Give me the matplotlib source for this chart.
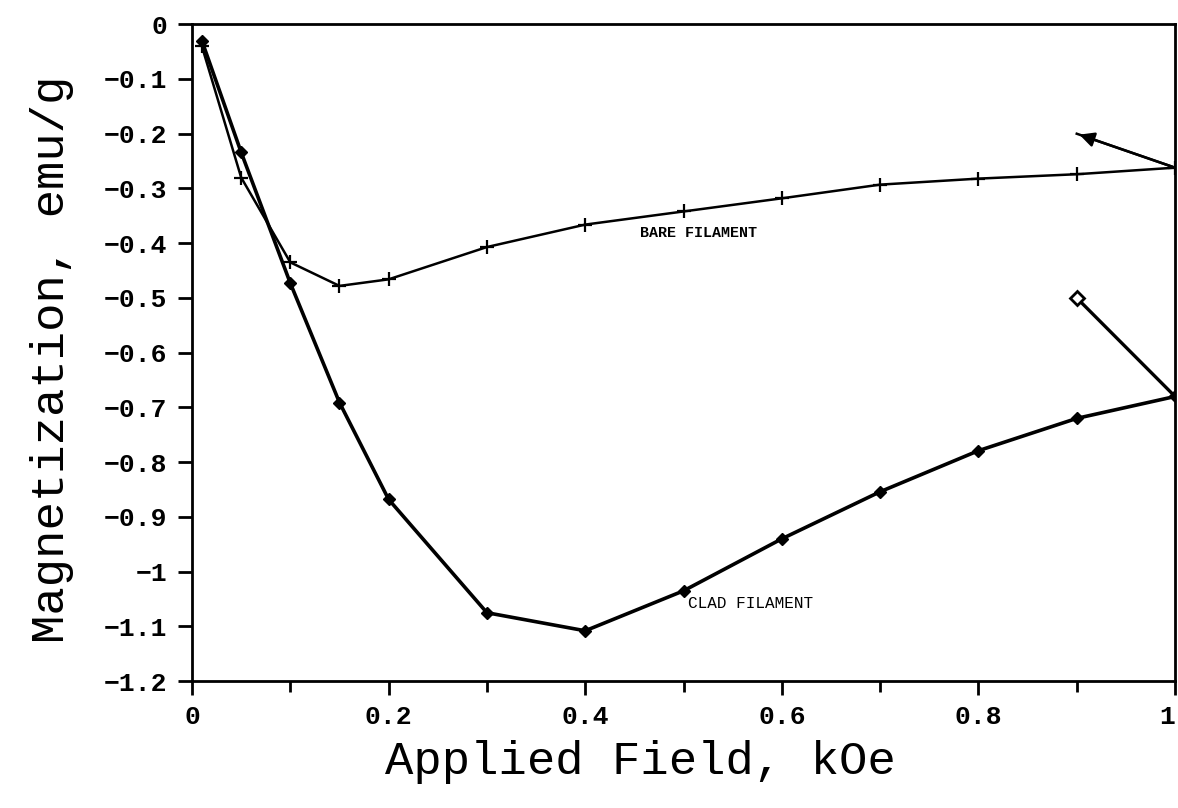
import matplotlib.pyplot as plt
import numpy as np

# bare filament (+ markers), last point is the return branch
bare_x = [0.01, 0.05, 0.1, 0.15, 0.2, 0.3, 0.4, 0.5, 0.6, 0.7, 0.8, 0.9, 1.0, 0.9]
bare_y = [-0.04, -0.28, -0.435, -0.478, -0.466, -0.407, -0.366, -0.342, -0.318,
          -0.293, -0.282, -0.274, -0.262, -0.2]

# clad filament (diamond markers), last point is the return branch
clad_x = [0.01, 0.05, 0.1, 0.15, 0.2, 0.3, 0.4, 0.5, 0.6, 0.7, 0.8, 0.9, 1.0, 0.9]
clad_y = [-0.03, -0.234, -0.473, -0.691, -0.868, -1.075, -1.108, -1.035, -0.94,
          -0.854, -0.779, -0.72, -0.68, -0.5]

x_major = [0, 0.2, 0.4, 0.6, 0.8, 1]
x_labels = ['0', '0.2', '0.4', '0.6', '0.8', '1']
y_ticks = [0, -0.1, -0.2, -0.3, -0.4, -0.5, -0.6, -0.7, -0.8, -0.9, -1, -1.1, -1.2]
y_labels = ['0', '\u22120.1', '\u22120.2', '\u22120.3', '\u22120.4', '\u22120.5', '\u22120.6',
            '\u22120.7', '\u22120.8', '\u22120.9', '\u22121', '\u22121.1', '\u22121.2']

mono = 'Liberation Mono'

fig = plt.figure(figsize=(11.78, 8.08), dpi=100)
ax = fig.add_axes([0.163, 0.157, 0.8345, 0.813])

n = len(bare_x)
ax.plot(bare_x, bare_y, color='black', lw=1.8, marker='+', ms=10, mew=1.6,
        markevery=list(range(n - 1)))
ax.plot(clad_x[:-1], clad_y[:-1], color='black', lw=2.6, marker='D', ms=6.5,
        mfc='black', mec='black')
ax.plot(clad_x[-2:], clad_y[-2:], color='black', lw=2.4, marker='D', ms=7,
        mfc='white', mec='black', mew=2, markevery=[1])

# arrow head on the bare return branch
ax.annotate('', xy=(bare_x[-1], bare_y[-1]), xytext=(bare_x[-2], bare_y[-2]),
            arrowprops=dict(arrowstyle='-|>', color='black', lw=1.8,
                            mutation_scale=22))

ax.text(0.456, -0.382, 'BARE FILAMENT', fontsize=10.8, family=mono,
        fontweight='bold', va='center', ha='left')
ax.text(0.505, -1.058, 'CLAD FILAMENT', fontsize=11.5, family=mono,
        va='center', ha='left')

ax.set_xlim(0, 1)
ax.set_ylim(-1.2, 0)
ax.set_xticks(x_major)
ax.set_xticklabels(x_labels, family=mono, fontsize=19, fontweight='bold')
ax.get_xticklabels()[-1].set_ha('right')
ax.set_xticks(np.arange(0.1, 1.0, 0.2), minor=True)
ax.set_yticks(y_ticks)
ax.set_yticklabels(y_labels, family=mono, fontsize=19, fontweight='bold')

ax.tick_params(axis='both', which='major', direction='out', length=10,
               width=2, color='black')
ax.tick_params(axis='x', which='minor', direction='out', length=8, width=2)
ax.tick_params(axis='y', pad=8)
ax.tick_params(axis='x', pad=7)

for s in ax.spines.values():
    s.set_linewidth(2)

ax.set_xlabel('Applied Field, kOe', family=mono, fontsize=34)
ax.set_ylabel('Magnetization, emu/g', family=mono, fontsize=34)
ax.xaxis.set_label_coords(0.456, -0.09)
ax.yaxis.set_label_coords(-0.12, 0.49)

fig.savefig('out.png', dpi=100)
